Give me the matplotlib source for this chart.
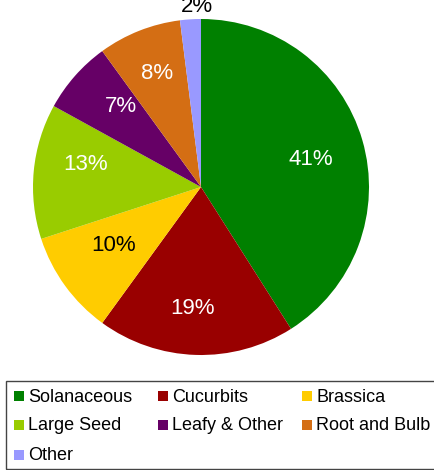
import matplotlib
matplotlib.use('Agg')
import matplotlib.pyplot as plt
from matplotlib.patches import Rectangle

plt.rcParams['font.family'] = ['Liberation Sans', 'DejaVu Sans']

categories = ['Solanaceous', 'Cucurbits', 'Brassica', 'Large Seed',
              'Leafy & Other', 'Root and Bulb', 'Other']
shares = [41, 19, 10, 13, 7, 8, 2]
colors = ['#008000', '#990000', '#FFCC00', '#99CC00',
          '#660066', '#D46E14', '#9999FF']
label_colors = ['white', 'white', 'black', 'white', 'white', 'white', 'black']
# label placement (radius units), like the "best fit" of the original
label_xy = [(0.655, 0.164), (-0.048, -0.726), (-0.518, -0.351), (-0.685, 0.131),
            (-0.476, 0.482), (-0.262, 0.673), (-0.024, 1.074)]

W, H = 435, 470
fig = plt.figure(figsize=(W / 100, H / 100), dpi=100)

# pie centre (201, 187) px, radius 168 px
cx, cy, r = 201, 187, 168
ax = fig.add_axes([(cx - r) / W, 1 - (cy + r) / H, 2 * r / W, 2 * r / H])
wedges, _, autotexts = ax.pie(
    shares, colors=colors, startangle=90, counterclock=False,
    autopct='%1.0f%%', pctdistance=0.7,
    wedgeprops=dict(linewidth=0), textprops=dict(fontsize=16))
ax.set_xlim(-1, 1)
ax.set_ylim(-1, 1)
ax.axis('off')

for t, c, xy in zip(autotexts, label_colors, label_xy):
    t.set_position(xy)
    t.set_color(c)
    t.set_ha('center')
    t.set_va('center')

# legend, row-major 3 columns
box_top, box_bot = 381, 469
fig.add_artist(Rectangle((6 / W, 1 - box_bot / H), (W + 10) / W, (box_bot - box_top) / H,
                         transform=fig.transFigure, fill=False,
                         edgecolor='#444444', linewidth=1))
col_x = [14, 158, 302]
row_y = [396, 425, 455]
for i, (name, col) in enumerate(zip(categories, colors)):
    x = col_x[i % 3]
    y = row_y[i // 3]
    fig.add_artist(Rectangle((x / W, 1 - (y + 5) / H), 10 / W, 10 / H,
                             transform=fig.transFigure, facecolor=col,
                             edgecolor='none'))
    fig.text((x + 14) / W, 1 - (y + 1) / H, name, fontsize=13,
             ha='left', va='center')

fig.savefig('out.png', dpi=100)
